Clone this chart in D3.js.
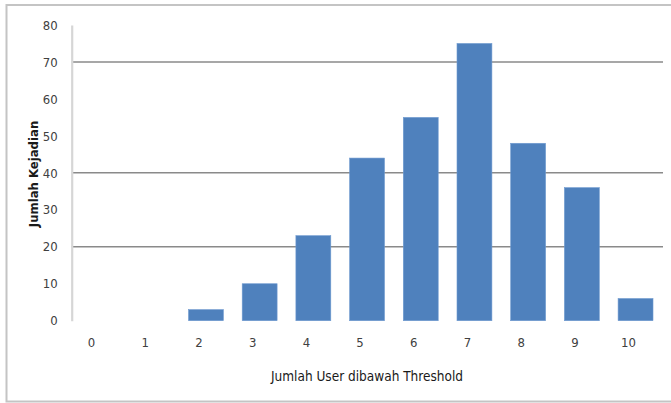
<!DOCTYPE html>
<html><head><meta charset="utf-8">
<script src="https://cdn.jsdelivr.net/npm/d3@7"></script>
<style>
html,body{margin:0;padding:0;background:#fff;}
svg{display:block;}
text{font-family:"Liberation Sans Narrow","Arial Narrow","DejaVu Sans Condensed",sans-serif;}
</style></head>
<body>
<svg id="chart" width="671" height="403"></svg>
<script>
const categories = ["0","1","2","3","4","5","6","7","8","9","10"];
const values = [0,0,3,10,23,44,55,75,48,36,6];
const yTicks = [0,10,20,30,40,50,60,70,80];
const gridValues = [20,40,70];
const xTitle = "Jumlah User dibawah Threshold";
const yTitle = "Jumlah Kejadian";

const svg = d3.select("#chart");
const pLeft = 71.7, pRight = 662.4, pTop = 25, pBottom = 320.7;

// frame
svg.append("rect").attr("x",6.5).attr("y",5).attr("width",680).attr("height",396.5)
  .attr("fill","none").attr("stroke","#c4c4c4").attr("stroke-width",2);

const x = d3.scaleBand().domain(categories).range([pLeft,pRight]).paddingInner(0.35).paddingOuter(0.175);
const y = d3.scaleLinear().domain([0,80]).range([pBottom,pTop]);

// gridlines
svg.append("g").selectAll("line").data(gridValues).join("line")
  .attr("x1",pLeft).attr("x2",663).attr("y1",d=>y(d)).attr("y2",d=>y(d))
  .attr("stroke","#8a8a8a").attr("stroke-width",1.5);

// bars
svg.append("g").selectAll("rect").data(values).join("rect")
  .attr("x",(d,i)=>x(categories[i])).attr("width",x.bandwidth())
  .attr("y",d=>y(d)).attr("height",d=>pBottom-y(d))
  .attr("fill","#4f81bd").attr("stroke","#6f9ad0").attr("stroke-width",0.6);

// y axis
const yAxis = d3.axisLeft(y).tickValues(yTicks).tickSize(0).tickPadding(14);
const gy = svg.append("g").attr("transform",`translate(${pLeft},0)`).call(yAxis);
gy.select(".domain").attr("stroke","#d6d6d6").attr("stroke-width",2.2);
gy.selectAll("text").attr("font-size",13).attr("fill","#404040")
  .attr("font-family","'Liberation Sans Narrow','DejaVu Sans Condensed',sans-serif");

// x axis
const xAxis = d3.axisBottom(x).tickSize(0).tickPadding(17);
const gx = svg.append("g").attr("transform",`translate(0,${pBottom})`).call(xAxis);
gx.select(".domain").remove();
gx.selectAll("text").attr("font-size",13).attr("fill","#404040").attr("dx",-7)
  .attr("font-family","'Liberation Sans Narrow','DejaVu Sans Condensed',sans-serif");

// titles
svg.append("text").attr("x",367).attr("y",381).attr("text-anchor","middle")
  .attr("font-size",13.5).attr("fill","#1a1a1a").text(xTitle);
svg.append("text").attr("transform","translate(38,174) rotate(-90)").attr("text-anchor","middle")
  .attr("font-size",13).attr("font-weight","bold").attr("fill","#1a1a1a").text(yTitle);
</script>
</body></html>
